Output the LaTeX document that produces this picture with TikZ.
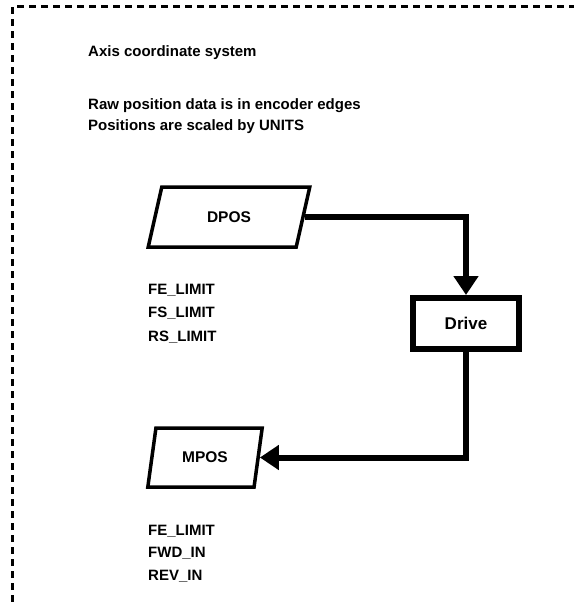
\documentclass[tikz,border=0pt]{standalone}
\usepackage{fontspec}
\setmainfont{Liberation Sans}
\usetikzlibrary{arrows.meta,shapes.geometric,positioning}

\begin{document}
\begin{tikzpicture}[x=1pt,y=-1pt,
  note/.style={font=\fontsize{15}{18}\selectfont\bfseries,anchor=base west,inner sep=0pt},
  datapara/.style={draw,line width=3.5pt,trapezium,trapezium stretches=true,
    trapezium left angle=68,trapezium right angle=112,inner sep=0pt,
    font=\fontsize{15.5}{18}\selectfont\bfseries},
  drivebox/.style={draw,line width=6pt,minimum width=106pt,minimum height=51pt,
    inner sep=0pt,font=\fontsize{17}{18}\selectfont\bfseries},
  flow/.style={line width=6pt,line join=miter,-{Triangle[width=24pt,length=19pt]}}]
  \useasboundingbox (0,0) rectangle (574,602);
  % border of the axis frame
  \draw[line width=3pt,dash pattern=on 7pt off 5pt] (12,602) -- (12,7) -- (574,7);
  \node[note] (title) at (88,56.5) {Axis coordinate system};
  \node[note] (raw) at (88,109) {Raw position data is in encoder edges};
  \node[note] (scaled) at (88,130) {Positions are scaled by UNITS};
  % demand and measured positions
  \node[datapara,minimum width=162pt,minimum height=60pt] (dpos) at (229,217) {DPOS};
  \node[datapara,minimum width=115pt,minimum height=59pt,trapezium left angle=71,trapezium right angle=109] (mpos) at (205,457.5) {MPOS};
  \node[drivebox] (drive) at (466,323.5) {Drive};
  \draw[flow] (dpos.east) -| (drive.north);
  \draw[flow] (drive.south) |- (mpos.east);
  \node[note] (dfe) at (148,294) {FE\_LIMIT};
  \node[note] (dfs) at (148,317.5) {FS\_LIMIT};
  \node[note] (drs) at (148,341) {RS\_LIMIT};
  \node[note] (mfe) at (148,535) {FE\_LIMIT};
  \node[note] (mfwd) at (148,557.5) {FWD\_IN};
  \node[note] (mrev) at (148,580) {REV\_IN};
\end{tikzpicture}
\end{document}
